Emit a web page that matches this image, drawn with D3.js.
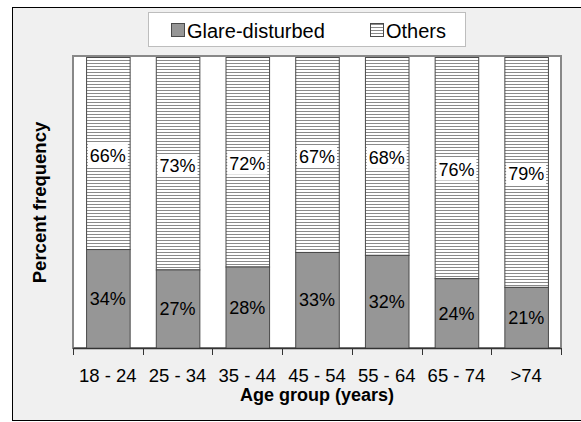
<!DOCTYPE html>
<html><head><meta charset="utf-8">
<script src="https://cdn.jsdelivr.net/npm/d3@7"></script>
<style>body{margin:0;background:#fff}svg{display:block}text{font-family:"Liberation Sans",Arial,sans-serif}</style>
</head><body>
<script>
const categories = ["18 - 24","25 - 34","35 - 44","45 - 54","55 - 64","65 - 74",">74"];
const glare = [34,27,28,33,32,24,21];
const others = [66,73,72,67,68,76,79];
const seriesNames = ["Glare-disturbed","Others"];

const W=581,H=422;
const svg=d3.select("body").append("svg").attr("width",W).attr("height",H);
const defs=svg.append("defs");
const pat=defs.append("pattern").attr("id","hatch").attr("patternUnits","userSpaceOnUse").attr("width",6).attr("height",3);
pat.append("rect").attr("width",6).attr("height",3).attr("fill","#fff");
pat.append("rect").attr("y",0).attr("width",6).attr("height",1).attr("fill","#8a8a8a");

// frame
svg.append("rect").attr("x",12.5).attr("y",7.5).attr("width",W).attr("height",413).attr("fill","#f0f0f0").attr("stroke","#000").attr("stroke-width",1);

const L=73,R=561,T=57,B=348;
const x=d3.scaleBand().domain(categories).range([L,R]).paddingInner(0.375).paddingOuter(0.1875);
const y=d3.scaleLinear().domain([0,100]).range([B,T]);

// plot area
svg.append("rect").attr("x",L).attr("y",T-1).attr("width",R-L).attr("height",B-T+1).attr("fill","#fff").attr("stroke","#888").attr("stroke-width",2);

const data=categories.map((c,i)=>({c,g:glare[i],o:others[i]}));
const gb=svg.append("g");
gb.selectAll(".o").data(data).join("rect").attr("x",d=>x(d.c)+0.5).attr("width",x.bandwidth())
  .attr("y",d=>y(d.g+d.o)+0.5).attr("height",d=>y(d.g)-y(d.g+d.o))
  .attr("fill","url(#hatch)").attr("stroke","#4a4a4a").attr("stroke-width",1);
gb.selectAll(".g").data(data).join("rect").attr("x",d=>x(d.c)+0.5).attr("width",x.bandwidth())
  .attr("y",d=>y(d.g)+0.5).attr("height",d=>y(0)-y(d.g))
  .attr("fill","#969696").attr("stroke","#4a4a4a").attr("stroke-width",1);

// x axis
const xa=svg.append("g").attr("transform",`translate(0,${B})`);
xa.append("line").attr("x1",L).attr("x2",R).attr("y1",0.5).attr("y2",0.5).attr("stroke","#333").attr("stroke-width",1.5);
const tickPos=categories.map(c=>x(c)-x.step()*x.paddingOuter()).concat([R]);
xa.selectAll(".t").data(tickPos).join("line").attr("x1",d=>Math.round(d)+0.5).attr("x2",d=>Math.round(d)+0.5).attr("y1",0).attr("y2",7).attr("stroke","#333");
xa.selectAll(".lab").data(categories).join("text").attr("x",d=>x(d)+x.bandwidth()/2).attr("y",34)
  .attr("text-anchor","middle").attr("font-size",18.5).attr("fill","#000").text(d=>d);

// labels glare
svg.selectAll(".gl").data(data).join("text").attr("x",d=>x(d.c)+x.bandwidth()/2).attr("y",d=>(y(0)+y(d.g))/2+6.5)
  .attr("text-anchor","middle").attr("font-size",18).attr("fill","#000").text(d=>d.g+"%");
// labels others with white box
const ol=svg.selectAll(".ol").data(data).join("g");
ol.each(function(d){
  const g=d3.select(this);
  const cx=x(d.c)+x.bandwidth()/2, cy=(y(d.g)+y(d.g+d.o))/2+2;
  const t=g.append("text").attr("x",cx).attr("y",cy+6.5).attr("text-anchor","middle").attr("font-size",18).attr("fill","#000").text(d.o+"%");
  const bb=t.node().getBBox();
  g.insert("rect","text").attr("x",bb.x-2).attr("y",cy-11).attr("width",bb.width+4).attr("height",22).attr("fill","#fff");
});

// axis titles
svg.append("text").attr("x",(L+R)/2).attr("y",401).attr("text-anchor","middle").attr("font-size",18).attr("font-weight","bold").text("Age group (years)");
svg.append("text").attr("transform",`translate(46,${(T+B)/2}) rotate(-90)`).attr("text-anchor","middle").attr("font-size",18.5).attr("font-weight","bold").text("Percent frequency");

// legend
const lg=svg.append("g");
lg.append("rect").attr("x",148.5).attr("y",12.5).attr("width",317).attr("height",34).attr("fill","#fff").attr("stroke","#bdbdbd");
const items=[{n:seriesNames[0],fill:"#969696",sx:171,tx:187},{n:seriesNames[1],fill:"url(#hatch)",sx:370,tx:386}];
lg.selectAll(".sw").data(items).join("rect").attr("x",d=>d.sx+0.5).attr("y",23.5).attr("width",13).attr("height",13).attr("fill",d=>d.fill).attr("stroke","#4a4a4a");
lg.selectAll(".lt").data(items).join("text").attr("x",d=>d.tx).attr("y",37.5).attr("font-size",20).attr("fill","#000").text(d=>d.n);
</script>
</body></html>
